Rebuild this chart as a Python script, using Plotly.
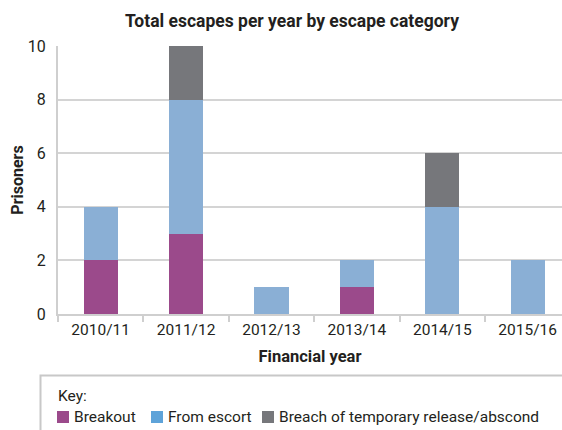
import plotly.graph_objects as go

years = ["2010/11", "2011/12", "2012/13", "2013/14", "2014/15", "2015/16"]
breakout = [2, 3, 0, 1, 0, 0]
from_escort = [2, 5, 1, 1, 4, 2]
breach = [0, 2, 0, 0, 2, 0]

names = ["Breakout", "From escort", "Breach of temporary release/abscond"]
bar_colors = ["#9b4a8b", "#8aafd5", "#76777b"]
key_colors = ["#9b4a8b", "#5ea3d9", "#76777b"]

W, H = 562, 430
L, R, T, B = 58, 0, 46, 116
pw, ph = W - L - R, H - T - B

FONT = "Roboto"
TXT = "#231f20"


def px_x(p):
    return (p - L) / pw


def px_y(p):
    return (H - B - p) / ph


fig = go.Figure()
for name, vals, col in zip(names, [breakout, from_escort, breach], bar_colors):
    fig.add_trace(go.Bar(
        x=years, y=vals, name=name, marker_color=col,
        marker_line_width=0, width=0.4, showlegend=False,
    ))

# key box underneath the chart
shapes = [dict(
    type="rect", xref="paper", yref="paper",
    x0=px_x(40.5), x1=px_x(600), y0=px_y(375.5), y1=px_y(460),
    line=dict(color="#c8c8c8", width=2), fillcolor="rgba(0,0,0,0)",
    layer="below",
)]
annotations = [dict(
    text="Key:", xref="paper", yref="paper", x=px_x(56), y=px_y(396),
    xanchor="left", yanchor="middle", showarrow=False,
    font=dict(size=15.5, color=TXT),
)]
swatch_x = [57, 151, 262]
for sx, name, col in zip(swatch_x, names, key_colors):
    shapes.append(dict(
        type="rect", xref="paper", yref="paper",
        x0=px_x(sx), x1=px_x(sx + 12), y0=px_y(423), y1=px_y(411),
        line=dict(width=0), fillcolor=col,
    ))
    annotations.append(dict(
        text=name, xref="paper", yref="paper", x=px_x(sx + 15), y=px_y(417),
        xanchor="left", yanchor="middle", showarrow=False,
        font=dict(size=15.5, color=TXT),
    ))

fig.update_layout(
    width=W, height=H,
    margin=dict(l=L, r=R, t=T, b=B),
    barmode="stack",
    showlegend=False,
    paper_bgcolor="white", plot_bgcolor="white",
    font=dict(family=FONT, size=15, color=TXT),
    title=dict(text="<b>Total escapes per year by escape category</b>",
               x=px_x(292), xanchor="center", y=1 - 21 / H, yanchor="middle",
               xref="paper", font=dict(size=17.5, color=TXT)),
    xaxis=dict(
        range=[-0.5, -0.5 + pw / 85.4],
        showline=True, linecolor="#cfcfcf", linewidth=2,
        ticks="outside", tickson="boundaries", ticklen=6, tickcolor="#cfcfcf",
        tickwidth=2, showgrid=False,
        title=dict(text="<b>Financial year</b>", standoff=13,
                   font=dict(size=16.5)),
        tickfont=dict(size=15.5),
    ),
    yaxis=dict(
        range=[0, 10], dtick=2, showgrid=True, gridcolor="#d4d4d4",
        gridwidth=2, showline=True, linecolor="#cfcfcf", linewidth=2,
        zeroline=False, ticks="", ticklabelstandoff=7,
        title=dict(text="<b>Prisoners</b>", standoff=0, font=dict(size=16)),
        tickfont=dict(size=16),
    ),
    shapes=shapes,
    annotations=annotations,
)

fig.write_html("out.html")
